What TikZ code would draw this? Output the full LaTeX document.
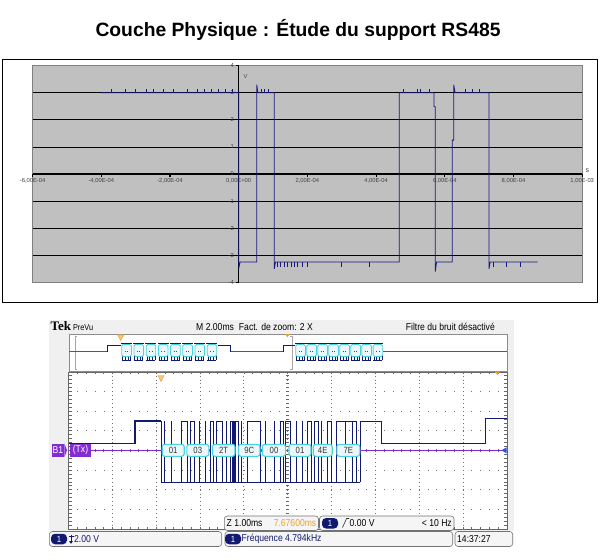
\documentclass[tikz,border=0pt]{standalone}
\usepackage{fontspec}
\setmainfont{Liberation Sans}
\newfontfamily\scopefont[FakeStretch=0.86]{Liberation Sans}
\newfontfamily\tekfont{Liberation Serif}
\definecolor{chartgray}{RGB}{192,192,192}
\definecolor{trace}{RGB}{24,24,130}
\definecolor{scopenavy}{RGB}{18,26,112}
\definecolor{buspurple}{RGB}{130,44,210}
\definecolor{buscyan}{RGB}{70,212,228}
\definecolor{busfill}{RGB}{236,246,248}
\definecolor{markorange}{RGB}{240,160,40}
\definecolor{panelgray}{RGB}{240,240,240}
\definecolor{groundblue}{RGB}{50,80,230}
\tikzset{
  ticklabel/.style={font=\fontsize{5.8}{6}\selectfont, text=black!75, inner sep=0.5pt},
  gridv/.style={black!55, line width=0.6pt, dash pattern=on 0.7pt off 3.23pt},
  gridh/.style={black!55, line width=0.6pt, dash pattern=on 0.8pt off 7.96pt},
  edgetick/.style={black!60, line width=0.4pt},
  bytebox/.style={draw=buscyan, line width=1.1pt, fill=busfill, rounded corners=2.5pt,
    minimum height=12pt, inner sep=0pt, font=\scopefont\fontsize{9}{9}\selectfont, text=black!80},
  smallbox/.style={draw=buscyan, line width=0.8pt, fill=busfill, rounded corners=1.5pt},
  statusbox/.style={draw=black!55, fill=black!4, rounded corners=3pt, line width=0.6pt},
  pill/.style={fill=scopenavy, text=white, rounded corners=4pt, minimum width=16pt,
    minimum height=10.5pt, inner sep=0pt, font=\scopefont\fontsize{9}{9}\selectfont},
  scopetext/.style={font=\scopefont\fontsize{10}{10}\selectfont, inner sep=0pt},
  buslabel/.style={fill=buspurple, text=white, minimum height=13pt, inner sep=1pt,
    font=\scopefont\fontsize{10}{10}\selectfont},
}
\begin{document}
\begin{tikzpicture}[x=1pt,y=-1pt]
  \useasboundingbox (0,0) rectangle (602,559);
  \fill [white] (0,0) rectangle (602,559);

  \node [font=\bfseries\fontsize{19.3}{22}\selectfont] (title) at (298,30) {Couche Physique : Étude du support RS485};

  % graphe du haut
  \draw [line width=0.8pt] (2,59) rectangle (597,302);
  \begin{scope}[shift={(238.7,174)},x=343.5pt,y=27.1pt]
    \fill [chartgray] (-0.6,-4) rectangle (1,4);
    \draw [black!50] (-0.6,-4) rectangle (1,4);
    \foreach \v in {3,2,1,-1,-2,-3}
      \draw [line width=0.7pt] (-0.6,\v) -- (1,\v);
    \draw [line width=0.7pt] (0,-4) -- (0,4);
    \foreach \v in {-4,...,4}
      \draw [line width=0.6pt] (0,\v) -- (-0.008,\v);
    \draw [line width=1.6pt] (-0.6,0) -- (1,0);
    \foreach \t in {-0.6,-0.4,-0.2,0,0.2,0.4,0.6,0.8,1}
      \draw [line width=1.1pt] (\t,0) -- (\t,-0.12);
    \foreach \v [count=\i] in {-4,...,4}
      \node [ticklabel, anchor=east] (ylab\i) at (-0.012,\v) {\v};
    \foreach \t/\l [count=\i] in {-0.6/{-6,00E-04},-0.4/{-4,00E-04},-0.2/{-2,00E-04},0/{0,00E+00},
        0.2/{2,00E-04},0.4/{4,00E-04},0.6/{6,00E-04},0.8/{8,00E-04},1/{1,00E-03}}
      \node [ticklabel, anchor=north] (xlab\i) at (\t,-0.15) {\l};
    \node [ticklabel, anchor=west] (vunit) at (0.012,3.6) {V};
    \node [ticklabel, anchor=west, font=\fontsize{7}{7}\selectfont] (sunit) at (1.008,0.14) {s};
    % signal
    \draw [trace, line width=0.8pt] (-0.4,3) -- (0,3) -- (0,-3.5) -- (0.004,-3.25) -- (0.0524,-3.25)
      -- (0.0524,3.3) -- (0.056,3) -- (0.1036,3) -- (0.1036,-3.5) -- (0.107,-3.25) -- (0.4675,-3.25)
      -- (0.4675,3) -- (0.5686,3) -- (0.5686,2.48) -- (0.5723,2.48) -- (0.5723,-3.6) -- (0.576,-3.25)
      -- (0.6218,-3.25) -- (0.6218,1.25) -- (0.6259,1.25) -- (0.6259,3.3) -- (0.63,3) -- (0.7287,3)
      -- (0.7287,-3.5) -- (0.732,-3.25) -- (0.8705,-3.25);
    \foreach \t in {-0.37,-0.33,-0.3,-0.27,-0.25,-0.22,-0.19,-0.15,-0.12,-0.1,-0.08,-0.06,-0.04,-0.02,
        0.065,0.075,0.085,0.48,0.52,0.53,0.555,0.66,0.68,0.7}
      \draw [trace, line width=0.6pt] (\t,3) -- (\t,3.12);
    \foreach \t in {0.112,0.122,0.132,0.142,0.152,0.162,0.172,0.185,0.2,0.3,0.38,0.74,0.78,0.82}
      \draw [trace, line width=0.6pt] (\t,-3.25) -- (\t,-3.45);
  \end{scope}

  % capture d'oscilloscope
  \fill [panelgray] (49,320) rectangle (514,531);
  \node [font=\tekfont\bfseries\fontsize{13}{13}\selectfont, anchor=base west, inner sep=0pt] (tek) at (50.5,330) {Tek};
  \node [scopetext, anchor=base west, font=\scopefont\fontsize{8.5}{9}\selectfont] (prevu) at ([xshift=1.5pt]tek.base east) {PreVu};
  \node [scopetext, anchor=base] (zoominfo) at (254.5,330) {M 2.00ms\enspace Fact. de zoom: 2 X};
  \node [scopetext, anchor=base east] (filtre) at (495,330) {Filtre du bruit désactivé};

  % bande PreVu
  \draw [black!45, fill=white] (69,334) rectangle (506.7,371);
  \draw [black!35] (77,336) -- (75,336) -- (75,369) -- (77,369);
  \draw [black!35] (289.7,336) -- (291.7,336) -- (291.7,369) -- (289.7,369);
  \draw [buspurple, line width=0.9pt] (69,351.7) -- (107.3,351.7);
  \draw [buspurple, line width=0.9pt] (230,351.7) -- (283.3,351.7);
  \draw [buspurple, line width=0.9pt] (383.3,351.7) -- (506.7,351.7);
  \draw [scopenavy, line width=0.9pt] (107.3,351.7) -- (107.3,345) -- (121,345);
  \draw [scopenavy, line width=0.9pt] (218.3,345) -- (230,345) -- (230,351.7);
  \draw [scopenavy, line width=0.9pt] (283.3,351.7) -- (283.3,345) -- (295,345);
  \foreach \x in {121,133.2,145.4,157.6,169.8,182,194.2,206.4,295,306,317,328,339,350,361,372.3}
  {
    \fill [scopenavy] (\x,343) rectangle ++(11,1.2);
    \draw [scopenavy, line width=0.5pt] (\x+1.5,356) -- (\x+1.5,361) (\x+4,356) -- (\x+4,360)
      (\x+7,356) -- (\x+7,361) (\x+9.5,356) -- (\x+9.5,360) (\x+1,360.5) -- (\x+10,360.5);
    \draw [smallbox] (\x+0.8,344.5) rectangle (\x+10.4,356.5);
    \draw [black!70, line width=0.5pt] (\x+3.8,351) -- (\x+4.6,351) (\x+6.2,351) -- (\x+7,351);
  }
  \fill [markorange!60, draw=markorange] (117.5,334.8) -- (124,334.8) -- (120.7,340.5) -- cycle;
  \fill [markorange] (284.8,334) -- (289.8,334) -- (287.3,337.2) -- cycle;

  % grille principale
  \draw [black!60, fill=white] (68.5,371.7) rectangle (506.7,529);
  \foreach \i in {1,...,9}
    \draw [gridv] ({68.5+43.82*\i},371.7) -- ({68.5+43.82*\i},529);
  \foreach \i in {1,...,7}
    \draw [gridh] (68.5,{371.7+19.66*\i}) -- (506.7,{371.7+19.66*\i});
  \foreach \i in {1,...,39}
  {
    \draw [edgetick] (68.5,{371.7+3.93*\i}) -- ++(3,0);
    \draw [edgetick] (506.7,{371.7+3.93*\i}) -- ++(-3,0);
    \draw [edgetick] (286.1,{371.7+3.93*\i}) -- ++(3,0);
  }
  \foreach \i in {1,...,49}
  {
    \draw [edgetick] ({68.5+8.764*\i},371.7) -- ++(0,2.5);
    \draw [edgetick] ({68.5+8.764*\i},529) -- ++(0,-2.5);
    \draw [edgetick] ({68.5+8.764*\i},448.8) -- ++(0,3);
  }
  \fill [markorange!60, draw=markorange] (157.8,375.5) -- (164.2,375.5) -- (161,381.5) -- cycle;
  \fill [markorange] (494.8,371.7) -- (499.8,371.7) -- (497.3,375) -- cycle;

  % trace du signal
  \draw [scopenavy, line width=1.3pt] (68.5,443.3) -- (135,443.3) -- (135,421) -- (161,421);
  \draw [scopenavy, line width=0.9pt] (161,421) -- (161,482) -- (360,482);
  \foreach \a/\b in {181/187,190/194,210/213,216/222,230/234,235.5/238,247/260,280/283,285/290,
      307/311,314/318,327/331,336/356}
    \draw [scopenavy, line width=0.9pt] (\a,482) |- (\b,421) -- (\b,482);
  \foreach \x in {164,171,199,205,226,241,265,274,296,302,321,345,352}
    \draw [scopenavy, line width=0.6pt] (\x,421) -- (\x,482);
  \draw [scopenavy, line width=1.8pt] (233,421) -- (233,482);
  \draw [scopenavy, line width=0.9pt] (360,482) -- (360,421) -- (381,421) -- (381,443.3);
  \draw [scopenavy, line width=1.3pt] (381,443.3) -- (485.7,443.3) -- (485.7,418.3) -- (506.7,418.3);

  % bus decode
  \draw [buspurple, line width=0.8pt] (91,450.3) -- (162,450.3);
  \draw [buspurple, line width=0.8pt] (360,450.3) -- (504,450.3);
  \fill [groundblue] (501.5,450.3) -- (506.5,447.3) -- (506.5,453.3) -- cycle;
  \foreach \x/\w/\t [count=\i] in {173.2/22/01,197.8/22/03,223.7/22.5/2T,249.2/21.5/9C,
      274/23.2/00,300/22/01,322.7/19/4E,348.3/23/7E}
    \node [bytebox, minimum width=\w pt] (byte\i) at (\x,450.3) {\t};
  \node [buslabel, minimum width=11pt] (b1) at (58,450.3) {B1};
  \fill [buspurple] (b1.north east) -- (67,450.3) -- (b1.south east) -- cycle;
  \node [buslabel, minimum width=21pt] (tx) at (80.5,450.3) {(Tx)};

  % barre d'etat
  \draw [statusbox] (224.3,516) rectangle (318.5,530.5);
  \node [scopetext, anchor=west] (zval) at (226.5,523.3) {Z 1.00ms};
  \node [scopetext, anchor=east, text=markorange] (zpos) at (316.5,523.3) {7.67600ms};
  \draw [statusbox] (319.5,516) rectangle (454,530.5);
  \node [pill] (trigch) at (330,523.3) {1};
  \draw [black!80, line width=0.6pt] (342.5,527.5) -- (346.5,518.5) -- (349,518.5);
  \node [scopetext, anchor=west] (trigval) at (349.5,523.3) {0.00 V};
  \node [scopetext, anchor=east] (trigfreq) at (452,523.3) {< 10 Hz};

  \draw [statusbox] (49.3,531.5) rectangle (221.7,546.5);
  \node [pill] (ch1) at (59,539) {1};
  \draw [scopenavy, line width=0.7pt] (71,534.5) -- (71,542) (68.5,536.5) -- (73.5,536.5);
  \fill [scopenavy] (69,541) -- (73,541) -- (71,543.8) -- cycle;
  \node [scopetext, anchor=west, text=scopenavy] (ch1scale) at (74,539) {2.00 V};
  \draw [statusbox] (225,531.5) rectangle (452.7,546.5);
  \node [pill] (ch1m) at (233,539) {1};
  \node [scopetext, anchor=west, text=scopenavy] (freq) at (241.5,539) {Fréquence 4.794kHz};
  \draw [statusbox] (455,531.5) rectangle (512.7,546.5);
  \node [scopetext, anchor=west] (clock) at (457,539) {14:37:27};
\end{tikzpicture}
\end{document}
